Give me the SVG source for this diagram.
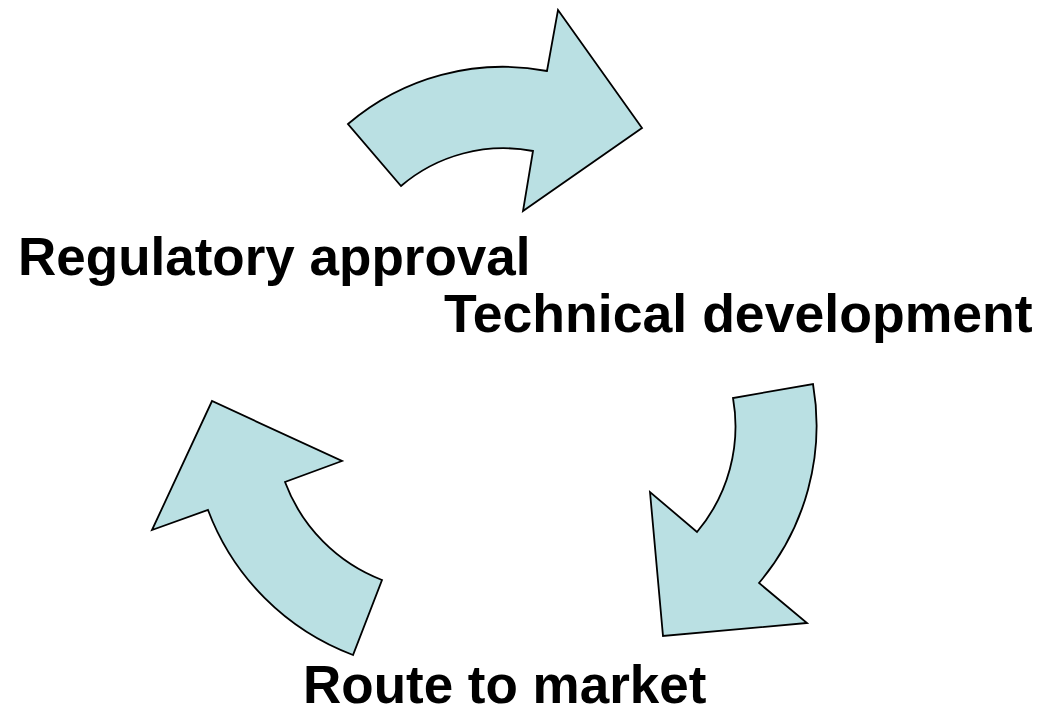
<svg xmlns="http://www.w3.org/2000/svg" width="1038" height="712" viewBox="0 0 1038 712">
<style>
.arrow{fill:#BAE0E3;stroke:#000;stroke-width:1.8;stroke-linejoin:miter}
.lbl{font-family:"Liberation Sans",Arial,sans-serif;font-weight:bold;font-size:53px;fill:#000}
</style>
<rect width="1038" height="712" fill="#fff"/>
<g id="connectors">
<path id="arrow-top" class="arrow" d="M348,124 A238,238 0 0 1 547,71 L558,10 L642,128 L523,211 L533,151 A158,158 0 0 0 401,186 Z"/>
<path id="arrow-right" class="arrow" d="M813,384 A244,244 0 0 1 759,583 L807,623 L663,636 L650,492 L697,532 A164,164 0 0 0 733,398 Z"/>
<path id="arrow-left" class="arrow" d="M353,655 A248,248 0 0 1 208,510 L152,530 L212,401 L342,461 L285,482 A168,168 0 0 0 382,580 Z"/>
</g>
<g id="node-regulatory"><text class="lbl" x="18" y="275">Regulatory approval</text></g>
<g id="node-technical"><text class="lbl" x="444" y="332" style="font-size:53.6px">Technical development</text></g>
<g id="node-route"><text class="lbl" x="303" y="703">Route to market</text></g>
</svg>
